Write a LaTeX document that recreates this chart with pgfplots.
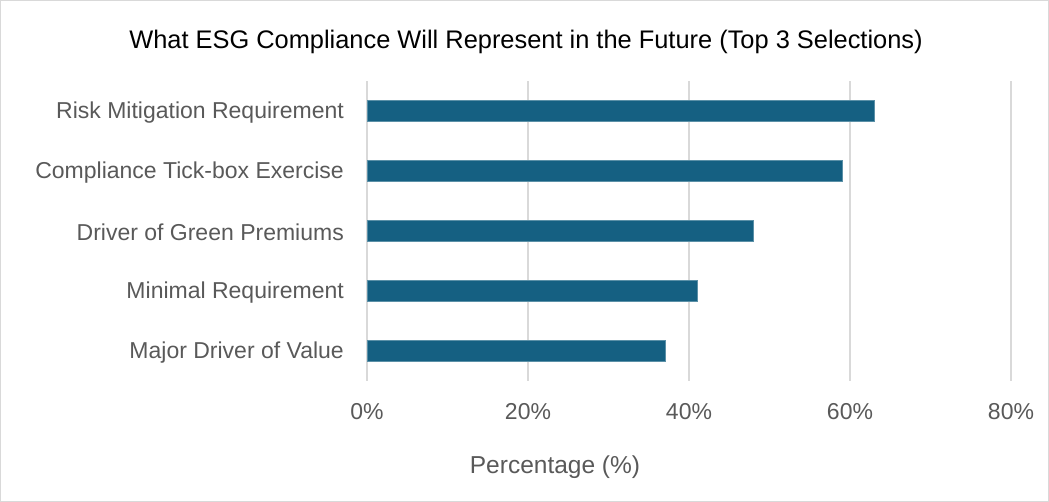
\documentclass[border=0pt]{standalone}
\usepackage{fontspec}
\setmainfont{Liberation Sans}
\usepackage{pgfplots}
\pgfplotsset{compat=1.18}
\definecolor{barblue}{HTML}{156082}
\definecolor{txtgray}{HTML}{595959}
\definecolor{gridgray}{HTML}{D9D9D9}
\begin{document}
\begin{tikzpicture}[x=1pt,y=1pt]
\path[use as bounding box] (0pt,0pt) rectangle (1049pt,502pt);
\draw[gridgray, line width=1pt] (0.5pt,0.5pt) rectangle (1048.5pt,501.5pt);
\begin{axis}[
  at={(367pt,121.3pt)}, anchor=south west,
  scale only axis, width=644pt, height=300pt,
  xbar, bar width=21pt,
  xmin=0, xmax=80, ymin=-0.5, ymax=4.5,
  xtick={0,20,...,80},
  xticklabel={\pgfmathprintnumber{\tick}\%},
  ytick={0,...,4},
  yticklabels={Major Driver of Value, Minimal Requirement, Driver of Green Premiums, Compliance Tick-box Exercise, Risk Mitigation Requirement},
  xmajorgrids, major grid style={gridgray, line width=1.2pt},
  axis line style={draw=none}, major tick length=0pt,
  tick label style={font=\fontsize{23}{27}\selectfont, text=txtgray},
  /pgf/number format/assume math mode=true,
  xticklabel style={anchor=base, yshift=-39pt},
  yticklabel style={anchor=east, inner sep=0pt, xshift=-23pt, yshift=-1.5pt},
  clip=false,
]
\addplot[fill=barblue, draw=barblue!70!white, line width=0.6pt] coordinates {(37,0) (41,1) (48,2) (59,3) (63,4)};
\end{axis}
\node[font=\fontsize{25.4}{30}\selectfont, text=black] at (526pt,460pt) {What ESG Compliance Will Represent in the Future (Top 3 Selections)};
\node[font=\fontsize{24.5}{29}\selectfont, text=txtgray] at (555pt,35pt) {Percentage (\%)};
\end{tikzpicture}
\end{document}
